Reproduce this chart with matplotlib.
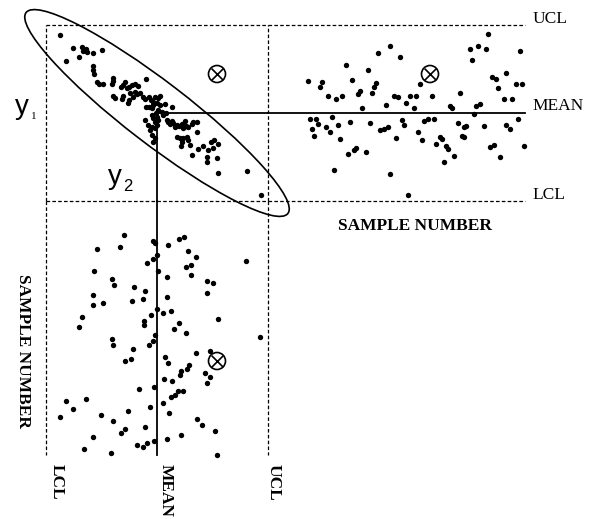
import matplotlib
matplotlib.use("Agg")
import matplotlib.pyplot as plt
from matplotlib.patches import Ellipse

plt.rcParams['font.family'] = ['Liberation Serif', 'DejaVu Serif']
plt.rcParams['lines.scale_dashes'] = False

# control limits
y1_lcl, y1_mean, y1_ucl = 12.0, 20.8, 29.6
y2_lcl, y2_mean, y2_ucl = 4.6, 15.7, 26.8

# joint scatter (y2 horizontal, y1 vertical)
joint_y2 = [6.0, 7.3, 8.2, 8.3, 8.6, 8.7, 9.3, 10.2, 7.9, 6.6,
            9.3, 9.3, 9.4, 9.7, 9.9, 10.3, 11.3, 11.3, 11.2, 12.1,
            12.3, 12.5, 12.7, 12.9, 13.2, 13.5, 13.8, 14.6, 11.3, 11.5,
            12.2, 12.3, 12.8, 13.0, 13.3, 13.5, 13.7, 14.0, 14.3, 14.5,
            14.9, 15.1, 15.5, 16.0, 15.3, 15.7, 16.0, 14.5, 15.2, 15.3,
            15.6, 15.8, 16.2, 16.3, 16.6, 14.8, 15.2, 15.0, 15.5, 15.7,
            15.8, 15.3, 15.2, 16.5, 17.2, 15.7, 15.8, 15.5, 15.2, 15.5,
            15.3, 16.7, 16.8, 17.0, 17.2, 17.3, 17.5, 17.7, 17.9, 18.2,
            18.3, 18.6, 18.8, 18.5, 19.2, 19.3, 19.7, 19.7, 17.7, 18.0,
            18.3, 18.7, 18.8, 18.2, 18.1, 19.0, 19.2, 19.8, 20.3, 20.8,
            21.1, 21.4, 21.8, 20.7, 20.7, 21.3, 21.7, 21.8, 24.7, 26.1,
            14.6, 14.9, 12.9]
joint_y1 = [28.6, 27.3, 27.4, 27.0, 27.2, 26.9, 26.8, 27.1, 26.4, 26.0,
            25.5, 25.1, 24.7, 23.9, 23.7, 23.7, 24.3, 24.0, 23.7, 23.4,
            23.6, 23.9, 23.3, 23.4, 23.6, 23.7, 23.5, 24.2, 22.5, 22.3,
            22.2, 22.5, 21.8, 22.8, 22.4, 22.9, 22.7, 22.8, 22.4, 22.2,
            22.4, 22.1, 22.4, 22.5, 21.9, 21.8, 21.6, 20.1, 20.6, 20.3,
            20.8, 21.1, 20.9, 20.6, 20.8, 19.6, 19.4, 19.1, 19.3, 19.6,
            22.3, 21.6, 21.3, 21.7, 21.4, 20.4, 20.1, 19.9, 18.6, 18.3,
            17.9, 20.1, 19.9, 19.7, 20.0, 19.8, 19.4, 19.6, 19.5, 19.7,
            19.3, 19.5, 19.4, 20.0, 19.7, 19.9, 19.9, 18.9, 18.4, 18.3,
            18.3, 18.4, 18.1, 17.9, 17.5, 17.6, 16.6, 17.2, 17.5, 17.1,
            17.9, 18.1, 17.7, 16.4, 15.9, 17.3, 16.3, 14.8, 15.0, 12.6,
            21.4, 21.4, 22.1]

# y1 control chart
chart1_sample = [9, 16, 15, 19, 23, 26, 28, 31, 39, 34,
                 35, 36, 41, 42, 43, 44, 50, 55, 48, 52,
                 54, 58, 60, 10, 13, 11, 12, 14, 18, 20,
                 21, 24, 25, 30, 29, 32, 33, 38, 40, 45,
                 47, 49, 53, 56, 57, 22, 50, 59, 65, 63,
                 62, 71, 85, 80, 81, 93, 95, 92, 90, 94,
                 98, 99, 91, 115, 101, 103, 108, 113, 116, 104,
                 107, 111, 67, 69, 72, 64, 66, 75, 76, 73,
                 78, 79, 77, 82, 84, 88, 87, 86, 87, 97,
                 100, 102, 105, 108, 110, 114, 117]
chart1_y1 = [24.0, 23.9, 23.4, 22.5, 22.2, 22.5, 25.6, 24.1, 25.1, 22.7,
             23.0, 21.3, 22.8, 23.4, 23.8, 26.8, 27.5, 26.4, 21.6, 22.5,
             22.4, 21.8, 22.5, 20.2, 20.2, 19.2, 18.5, 19.7, 19.4, 18.9,
             20.4, 19.6, 18.2, 19.9, 16.7, 17.1, 17.3, 16.9, 19.8, 19.1,
             19.2, 19.4, 18.3, 20.1, 19.6, 15.1, 14.7, 12.6, 23.7, 22.5,
             21.3, 22.5, 22.8, 21.5, 21.3, 21.5, 21.7, 20.7, 27.2, 27.5,
             27.2, 28.7, 26.1, 27.0, 24.4, 24.2, 24.8, 23.7, 23.7, 23.3,
             22.2, 22.2, 20.0, 20.2, 20.2, 18.9, 18.1, 18.4, 18.2, 17.7,
             17.5, 17.2, 15.9, 16.5, 19.8, 19.5, 19.4, 18.5, 18.4, 19.5,
             17.4, 17.6, 16.4, 19.6, 19.2, 20.2, 17.5]

# y2 control chart (sample number runs downwards)
chart2_y2 = [12.4, 9.7, 12.0, 15.3, 15.5, 15.7, 15.3, 14.7, 15.8, 9.4,
             11.2, 11.4, 13.4, 14.5, 9.3, 9.3, 10.3, 13.2, 14.3, 15.7,
             15.1, 8.2, 7.9, 14.4, 14.4, 16.8, 17.9, 18.4, 18.8, 19.6,
             18.6, 19.1, 19.1, 16.7, 20.7, 21.3, 20.7, 24.6, 16.7, 16.3,
             17.1, 17.9, 21.8, 17.4, 18.6, 11.2, 11.3, 15.5, 15.3, 14.9,
             13.3, 12.5, 13.1, 13.9, 15.4, 6.6, 8.6, 7.3, 15.0, 12.8,
             6.0, 10.1, 11.3, 12.1, 12.5, 14.5, 9.3, 13.7, 14.3, 14.7,
             15.4, 8.4, 11.1, 26.0, 16.5, 16.8, 19.6, 21.0, 18.9, 18.7,
             18.1, 18.0, 20.5, 21.0, 20.7, 16.4, 17.2, 18.3, 17.8, 17.5,
             17.1, 16.3, 16.9, 19.7, 20.2, 21.5, 18.1, 16.7, 21.7]
chart2_sample = [17, 24, 23, 20, 21, 27, 29, 31, 35, 35,
                 39, 42, 43, 45, 47, 52, 51, 50, 49, 54,
                 57, 58, 63, 60, 62, 22, 19, 18, 25, 28,
                 33, 32, 37, 38, 40, 41, 46, 30, 48, 56,
                 55, 61, 59, 64, 66, 69, 72, 67, 70, 72,
                 74, 80, 79, 94, 93, 100, 99, 104, 103, 105,
                 108, 107, 110, 116, 114, 113, 118, 122, 123, 121,
                 120, 124, 126, 68, 78, 81, 76, 75, 82, 84,
                 85, 87, 86, 88, 91, 89, 90, 95, 95, 97,
                 98, 101, 106, 109, 112, 115, 117, 119, 127]

# the out-of-control observation
out_y2, out_y1 = 21.7, 24.7
out_sample1, out_sample2 = 70, 80

W, H = 595, 519
fig = plt.figure(figsize=(W / 100, H / 100), dpi=100)


def box(x0, y0, x1, y1):
    return [x0 / W, 1 - y1 / H, (x1 - x0) / W, (y1 - y0) / H]


ax_m = fig.add_axes(box(46, 25, 268, 201))
ax_r = fig.add_axes(box(268, 25, 525, 201))
ax_b = fig.add_axes(box(46, 201, 268, 457))
ax_m.set_xlim(y2_lcl, y2_ucl)
ax_m.set_ylim(y1_lcl, y1_ucl)
ax_r.set_xlim(-11, 117.5)
ax_r.set_ylim(y1_lcl, y1_ucl)
ax_b.set_xlim(y2_lcl, y2_ucl)
ax_b.set_ylim(128, 0)
for ax in (ax_m, ax_r, ax_b):
    ax.axis('off')

dash = dict(color='black', lw=0.9, linestyle=(0, (2.6, 1.6)), clip_on=False)
solid = dict(color='black', lw=1.3, clip_on=False)

# limit lines
for v in (y1_lcl, y1_ucl):
    ax_m.axhline(v, **dash)
    ax_r.axhline(v, **dash)
for v in (y2_lcl, y2_ucl):
    ax_m.axvline(v, **dash)
    ax_b.plot([v, v], [0, 127], **dash)
ax_m.plot([y2_mean, y2_ucl], [y1_mean, y1_mean], **solid)
ax_m.plot([y2_mean, y2_mean], [y1_lcl, y1_mean], **solid)
ax_r.axhline(y1_mean, **solid)
ax_b.plot([y2_mean, y2_mean], [0, 127], **solid)

# points
pts = dict(s=15, c='black', linewidths=0, clip_on=False, zorder=3)
ax_m.scatter(joint_y2, joint_y1, **pts)
ax_r.scatter(chart1_sample, chart1_y1, **pts)
ax_b.scatter(chart2_y2, chart2_sample, **pts)

# control ellipse
ax_m.add_patch(Ellipse((y2_mean, y1_mean), width=33.0, height=6.2, angle=-37.5,
                       fill=False, ec='black', lw=1.2, clip_on=False))

# circled crosses
for ax, x, y in ((ax_m, out_y2, out_y1), (ax_r, out_sample1, out_y1),
                 (ax_b, out_y2, out_sample2)):
    ax.scatter([x], [y], s=150, facecolors='none', edgecolors='black',
               linewidths=1.2, clip_on=False, zorder=4)
    ax.scatter([x], [y], s=72, marker='x', c='black', linewidths=1.2,
               clip_on=False, zorder=4)


def fxy(x, y):
    return x / W, 1 - y / H


fs = 12.5
fig.text(*fxy(533, 23), 'UCL', fontsize=fs, va='baseline')
fig.text(*fxy(532, 109.5), 'MEAN', fontsize=fs, va='baseline')
fig.text(*fxy(532, 199), 'LCL', fontsize=fs, va='baseline')
fig.text(*fxy(338, 230), 'SAMPLE NUMBER', fontsize=fs, weight='bold', va='baseline')
fig.text(*fxy(23, 351), 'SAMPLE NUMBER', fontsize=fs, weight='bold', rotation=-90,
         ha='center', va='center')
fig.text(*fxy(56.5, 482), 'LCL', fontsize=fs, weight='bold', rotation=-90,
         ha='center', va='center')
fig.text(*fxy(166, 490), 'MEAN', fontsize=fs, weight='bold', rotation=-90,
         ha='center', va='center')
fig.text(*fxy(274, 482), 'UCL', fontsize=fs, weight='bold', rotation=-90,
         ha='center', va='center')

# y1 / y2 labels
fig.text(*fxy(15, 114), 'y', fontsize=20, family='Liberation Sans', va='baseline')
fig.text(*fxy(30.5, 119), '1', fontsize=8, va='baseline')
fig.text(*fxy(108, 184), 'y', fontsize=20, family='Liberation Sans', va='baseline')
fig.text(*fxy(123, 191), '2', fontsize=12, family='Liberation Sans', va='baseline')

fig.savefig('out.png', dpi=100, facecolor='white')
